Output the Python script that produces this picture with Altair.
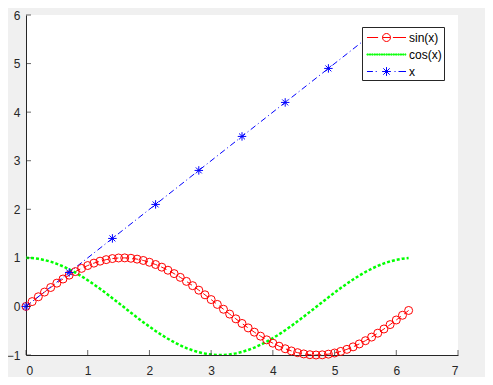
import altair as alt
import pandas as pd

# ---- data ----
x_vals = [0.0, 0.1, 0.2, 0.3, 0.4, 0.5, 0.6, 0.7, 0.8, 0.9,
          1.0, 1.1, 1.2, 1.3, 1.4, 1.5, 1.6, 1.7, 1.8, 1.9,
          2.0, 2.1, 2.2, 2.3, 2.4, 2.5, 2.6, 2.7, 2.8, 2.9,
          3.0, 3.1, 3.2, 3.3, 3.4, 3.5, 3.6, 3.7, 3.8, 3.9,
          4.0, 4.1, 4.2, 4.3, 4.4, 4.5, 4.6, 4.7, 4.8, 4.9,
          5.0, 5.1, 5.2, 5.3, 5.4, 5.5, 5.6, 5.7, 5.8, 5.9,
          6.0, 6.1, 6.2]
sin_vals = [0.0, 0.0998, 0.1987, 0.2955, 0.3894, 0.4794, 0.5646, 0.6442, 0.7174, 0.7833,
            0.8415, 0.8912, 0.9320, 0.9636, 0.9854, 0.9975, 0.9996, 0.9917, 0.9738, 0.9463,
            0.9093, 0.8632, 0.8085, 0.7457, 0.6755, 0.5985, 0.5155, 0.4274, 0.3350, 0.2392,
            0.1411, 0.0416, -0.0584, -0.1577, -0.2555, -0.3508, -0.4425, -0.5298, -0.6119, -0.6878,
            -0.7568, -0.8183, -0.8716, -0.9162, -0.9516, -0.9775, -0.9937, -0.9999, -0.9962, -0.9825,
            -0.9589, -0.9258, -0.8835, -0.8323, -0.7728, -0.7055, -0.6313, -0.5507, -0.4646, -0.3739,
            -0.2794, -0.1822, -0.0831]
cos_vals = [1.0, 0.9950, 0.9801, 0.9553, 0.9211, 0.8776, 0.8253, 0.7648, 0.6967, 0.6216,
            0.5403, 0.4536, 0.3624, 0.2675, 0.1700, 0.0707, -0.0292, -0.1288, -0.2272, -0.3233,
            -0.4161, -0.5048, -0.5885, -0.6663, -0.7374, -0.8011, -0.8569, -0.9041, -0.9422, -0.9710,
            -0.9900, -0.9991, -0.9983, -0.9875, -0.9668, -0.9365, -0.8968, -0.8481, -0.7910, -0.7259,
            -0.6536, -0.5748, -0.4903, -0.4008, -0.3073, -0.2108, -0.1122, -0.0124, 0.0875, 0.1865,
            0.2837, 0.3780, 0.4685, 0.5544, 0.6347, 0.7087, 0.7756, 0.8347, 0.8855, 0.9275,
            0.9602, 0.9833, 0.9965]
lin_x = [0.0, 0.7, 1.4, 2.1, 2.8, 3.5, 4.2, 4.9, 5.6]
lin_y = [0.0, 0.7, 1.4, 2.1, 2.8, 3.5, 4.2, 4.9, 5.6]
series_names = ["sin(x)", "cos(x)", "x"]
x_ticks = [0, 1, 2, 3, 4, 5, 6, 7]
y_ticks = [-1, 0, 1, 2, 3, 4, 5, 6]

# ---- tables ----
sin_df = pd.DataFrame({"x": x_vals, "y": sin_vals})
cos_df = pd.DataFrame({"x": x_vals, "y": cos_vals})
lin_df = pd.DataFrame({"x": lin_x, "y": lin_y})
leg_df = pd.DataFrame({"series": series_names, "x": [0, 0, 0], "y": [0, 0, 0]})
xt_df = pd.DataFrame({"t": x_ticks})
yt_df = pd.DataFrame({"t": y_ticks})

FONT = "Liberation Sans"
INK = "#262626"
RED, GREEN, BLUE = "#ff0000", "#00ff00", "#0000ff"
color_scale = alt.Scale(domain=series_names, range=[RED, GREEN, BLUE])

ASTERISK = "M0,-1L0,1M-1,0L1,0M-0.7,-0.7L0.7,0.7M-0.7,0.7L0.7,-0.7"
# legend samples: unit = 8px, width ~39px (-2.44..2.44)
LEG_SIN = ("M-2.44,0L-1.05,0M-0.5,0L0.5,0M0.8,0L2.44,0"
           "M-0.5,0A0.5,0.5 0 1,0 0.5,0A0.5,0.5 0 1,0 -0.5,0")
LEG_COS = "".join(
    f"M{-2.44 + i * 0.216:.3f},-0.08h0.1v0.16h-0.1z" for i in range(23))
LEG_X = ("M-2.44,0L-1.7,0M-1.35,0L-1.22,0M1.0,0L1.13,0M1.5,0L2.44,0"
         "M-0.55,0L0.55,0M0,-0.55L0,0.55M-0.4,-0.4L0.4,0.4M-0.4,0.4L0.4,-0.4")
shape_scale = alt.Scale(domain=series_names, range=[LEG_SIN, LEG_COS, LEG_X])

xs = alt.Scale(domain=[0, 7], nice=False, zero=False)
ys = alt.Scale(domain=[-1, 6], nice=False, zero=False)

X = alt.X("x:Q", scale=xs, title=None, axis=alt.Axis(values=x_ticks, format="d", labelPadding=10))
Y = alt.Y("y:Q", scale=ys, title=None, axis=alt.Axis(values=y_ticks, format="d", labelPadding=6))
Xp = alt.X("x:Q", scale=xs, title=None)
Yp = alt.Y("y:Q", scale=ys, title=None)

sin_line = alt.Chart(sin_df).mark_line(color=RED, strokeDash=[6, 4], strokeWidth=1,
                                       clip=True).encode(x=X, y=Y)
cos_line = alt.Chart(cos_df).mark_line(color=GREEN, strokeDash=[3, 2], strokeWidth=2.5,
                                       clip=True).encode(x=Xp, y=Yp)
lin_line = alt.Chart(lin_df).mark_line(color=BLUE, strokeDash=[6, 3, 1, 3], strokeWidth=1,
                                       clip=True).encode(x=Xp, y=Yp)

circles = alt.Chart(sin_df).mark_point(shape="circle", filled=False, color=RED,
                                       size=64, strokeWidth=1, opacity=1).encode(x=Xp, y=Yp)

stars = alt.Chart(lin_df).mark_point(shape=ASTERISK, filled=False, color=BLUE,
                                     size=72, strokeWidth=1, opacity=1).encode(x=Xp, y=Yp)

leg = alt.Legend(orient="none", legendX=336, legendY=12, title=None,
                 symbolSize=256, symbolStrokeWidth=1, symbolOffset=14,
                 labelFont=FONT, labelFontSize=12, labelColor="#000000",
                 fillColor="#ffffff", strokeColor=INK, padding=2, labelOffset=14,
                 rowPadding=2)

legend_layer = alt.Chart(leg_df).transform_filter("datum.x > 100").mark_point(
    filled=False, opacity=1, size=256).encode(
    x=Xp, y=Yp,
    color=alt.Color("series:N", scale=color_scale, legend=leg),
    shape=alt.Shape("series:N", scale=shape_scale, legend=leg),
)

xticks = alt.Chart(xt_df).mark_tick(orient="vertical", size=5, thickness=1,
                                    yOffset=-2.5, color=INK).encode(
    x=alt.X("t:Q", scale=xs, title=None), y=alt.datum(-1))
yticks = alt.Chart(yt_df).mark_tick(orient="horizontal", size=5, thickness=1,
                                    xOffset=2.5, color=INK).encode(
    y=alt.Y("t:Q", scale=ys, title=None), x=alt.datum(0))

chart = alt.layer(sin_line, cos_line, lin_line, circles, stars, legend_layer,
                  xticks, yticks).properties(
    width=432, height=340,
    autosize=alt.AutoSizeParams(type="none"),
    padding={"left": 18, "top": 7, "right": 27, "bottom": 22},
    background="#f0f0f0",
).configure_view(stroke=None, fill="#ffffff").configure_axis(
    grid=False, ticks=False, domainColor=INK, domainWidth=1,
    labelFont=FONT, labelFontSize=12, labelColor=INK,
)

chart.save("out.html", embed_options={"renderer": "svg", "actions": False})
